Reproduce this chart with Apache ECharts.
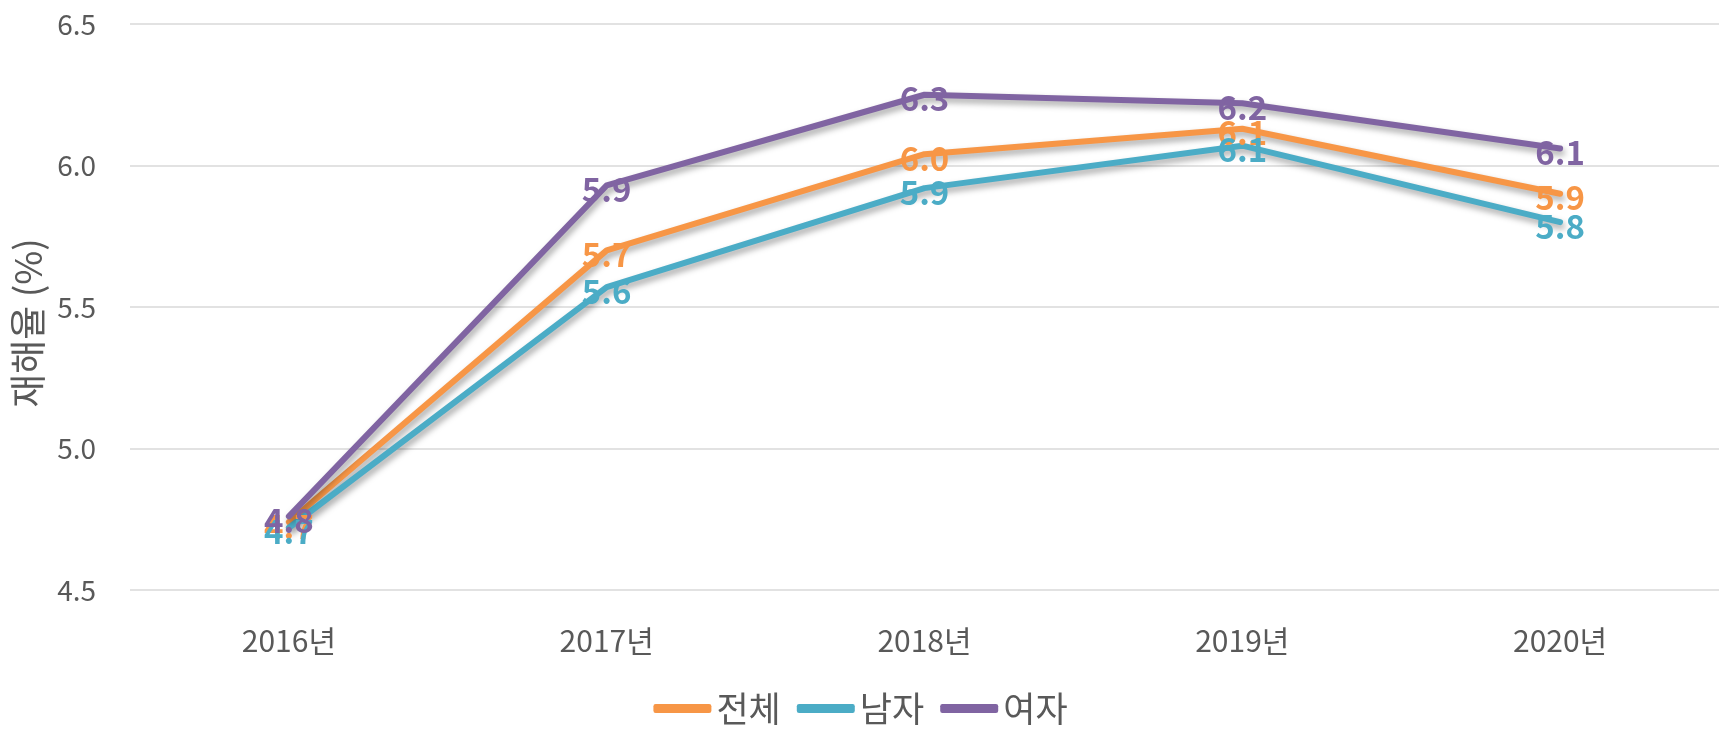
<!DOCTYPE html>
<html>
<head>
<meta charset="utf-8">
<script src="https://cdn.jsdelivr.net/npm/echarts@6/dist/echarts.min.js"></script>
<style>
  html, body { margin: 0; padding: 0; background: #fff; }
  #main { width: 1721px; height: 731px; }
</style>
</head>
<body>
<div id="main"></div>
<script>
var years = ['2016년', '2017년', '2018년', '2019년', '2020년'];
var dataTotal = [4.74, 5.70, 6.04, 6.13, 5.90];   // 전체
var dataMale = [4.72, 5.57, 5.92, 6.07, 5.80];    // 남자
var dataFemale = [4.76, 5.93, 6.25, 6.22, 6.06];  // 여자

var FONT = '"Noto Sans CJK KR", "Noto Sans", sans-serif';

function makeSeries(name, data, color) {
    return {
        name: name,
        type: 'line',
        data: data,
        symbol: 'circle',
        symbolSize: 1,
        showSymbol: true,
        itemStyle: { color: color },
        lineStyle: {
            color: color,
            width: 6,
            cap: 'round',
            join: 'round',
            shadowColor: 'rgba(0,0,0,0.35)',
            shadowBlur: 6,
            shadowOffsetY: 4,
            shadowOffsetX: 2
        },
        label: {
            show: true,
            position: 'inside',
            offset: [0, 4],
            color: color,
            fontFamily: FONT,
            fontWeight: 'bold',
            fontSize: 33,
            formatter: function (p) { return p.value.toFixed(1); }
        },
        emphasis: { disabled: true }
    };
}

var myChart = echarts.init(document.getElementById('main'));
var option = {
    backgroundColor: '#fff',
    animation: false,
    textStyle: { fontFamily: FONT },
    legend: {
        bottom: 0,
        left: 'center',
        itemWidth: 58,
        itemHeight: 9,
        itemGap: 16,
        icon: 'roundRect',
        textStyle: { color: '#595959', fontSize: 35, fontFamily: FONT },
        data: ['전체', '남자', '여자']
    },
    grid: {
        left: 130,
        right: 2,
        top: 24,
        bottom: 141
    },
    xAxis: {
        type: 'category',
        data: years,
        axisLine: { show: false },
        axisTick: { show: false },
        axisLabel: {
            color: '#595959',
            fontSize: 30,
            fontFamily: FONT,
            margin: 36
        }
    },
    yAxis: {
        type: 'value',
        min: 4.5,
        max: 6.5,
        interval: 0.5,
        name: '재해율 (%)',
        nameLocation: 'middle',
        nameGap: 80,
        nameTextStyle: { color: '#595959', fontSize: 37, fontFamily: FONT, padding: [0, 32, 0, 0] },
        axisLine: { show: false },
        axisTick: { show: false },
        splitLine: { lineStyle: { color: '#d9d9d9', width: 1.5 } },
        axisLabel: {
            color: '#595959',
            fontSize: 28,
            fontFamily: FONT,
            margin: 34,
            formatter: function (v) { return v.toFixed(1); }
        }
    },
    series: [
        makeSeries('전체', dataTotal, '#F79646'),
        makeSeries('남자', dataMale, '#4BACC6'),
        makeSeries('여자', dataFemale, '#8064A2')
    ]
};
myChart.setOption(option);
</script>
</body>
</html>
